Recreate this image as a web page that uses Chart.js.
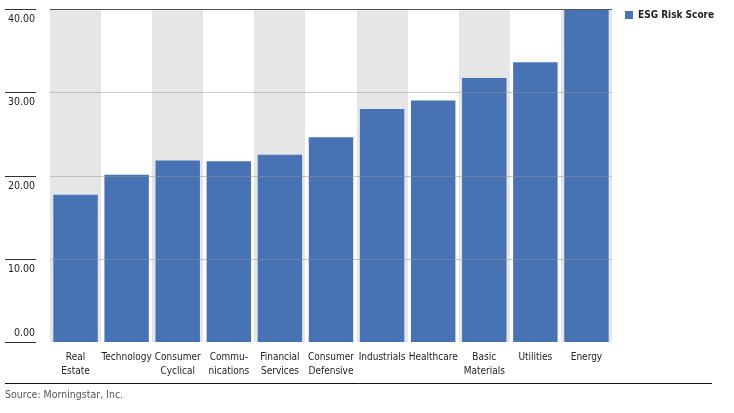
<!DOCTYPE html>
<html>
<head>
<meta charset="utf-8">
<script src="https://cdn.jsdelivr.net/npm/chart.js@4/dist/chart.umd.min.js"></script>
<style>
  html, body { margin: 0; padding: 0; background: #fff; }
  #wrap { width: 734px; height: 413px; }
</style>
</head>
<body>
<div id="wrap"><canvas id="c" width="734" height="413"></canvas></div>
<script>
  // sectors, sorted by risk score
  const categories = [
    ['Real', 'Estate'], 'Technology', ['Consumer', 'Cyclical'], ['Commu-', 'nications'],
    ['Financial', 'Services'], ['Consumer', 'Defensive'], 'Industrials', 'Healthcare',
    ['Basic', 'Materials'], 'Utilities', 'Energy'
  ];
  const riskScores = [17.7, 20.1, 21.8, 21.7, 22.5, 24.6, 28.0, 29.0, 31.7, 33.6, 41.0];
  const yTicks = [0, 10, 20, 30, 40];
  const seriesName = 'ESG Risk Score';
  const sourceNote = 'Source: Morningstar, Inc.';

  const FONT = '"Liberation Sans Narrow", "Arial Narrow", "DejaVu Sans Condensed", sans-serif';
  const BAR = '#4773b5';
  const BAND = '#e6e6e6';

  // bands, grid, tick stubs, legend and footer are drawn by hand
  const decor = {
    id: 'decor',
    beforeDatasetsDraw(chart) {
      const { ctx, chartArea: a, scales: { x } } = chart;
      const half = (a.right - a.left) / categories.length / 2;
      ctx.save();
      ctx.fillStyle = BAND;
      categories.forEach(function (_, i) {
        if (i % 2) return;
        const cx = x.getPixelForValue(i);
        ctx.fillRect(Math.round(cx - half), a.top, Math.round(2 * half), a.bottom - a.top);
      });
      ctx.restore();
    },
    afterDatasetsDraw(chart) {
      const { ctx, chartArea: a, scales: { y } } = chart;
      ctx.save();
      ctx.lineWidth = 1;
      yTicks.forEach(function (v) {
        const py = Math.round(y.getPixelForValue(v)) + 0.5;
        // grid line
        if (v !== 0) {
          ctx.strokeStyle = v === 40 ? '#555555' : 'rgba(150,150,150,0.5)';
          ctx.beginPath();
          ctx.moveTo(a.left, py);
          ctx.lineTo(a.right, py);
          ctx.stroke();
        }
        // short stub at the left
        ctx.strokeStyle = '#333333';
        ctx.beginPath();
        ctx.moveTo(5, py);
        ctx.lineTo(36, py);
        ctx.stroke();
        // label sits under the stub (zero sits above it)
        ctx.fillStyle = '#222222';
        ctx.font = '10.5px ' + FONT;
        ctx.textAlign = 'right';
        ctx.textBaseline = 'middle';
        ctx.fillText(v.toFixed(2), 35, v === 0 ? py - 9 : py + 10);
      });

      // legend
      ctx.fillStyle = BAR;
      ctx.fillRect(625, 11, 8, 8);
      ctx.fillStyle = '#222222';
      ctx.font = 'bold 10px ' + FONT;
      ctx.textAlign = 'left';
      ctx.textBaseline = 'middle';
      ctx.fillText(seriesName, 638, 15.5);

      // footer rule and source
      ctx.strokeStyle = '#111111';
      ctx.beginPath();
      ctx.moveTo(5, 383.5);
      ctx.lineTo(712, 383.5);
      ctx.stroke();
      ctx.fillStyle = '#555555';
      ctx.font = '10.5px ' + FONT;
      ctx.fillText(sourceNote, 5, 395);
      ctx.restore();
    }
  };

  new Chart(document.getElementById('c'), {
    type: 'bar',
    data: {
      labels: categories,
      datasets: [{
        label: seriesName,
        data: riskScores,
        backgroundColor: BAR,
        borderWidth: 0,
        categoryPercentage: 1,
        barPercentage: 0.87
      }]
    },
    options: {
      responsive: false,
      animation: false,
      devicePixelRatio: 1,
      layout: { padding: { left: 0, right: 122, top: 9, bottom: 0 } },
      plugins: {
        legend: { display: false },
        title: { display: false },
        tooltip: { enabled: false }
      },
      scales: {
        x: {
          grid: { display: false, drawTicks: false },
          border: { display: false },
          ticks: {
            color: '#222222',
            font: { family: FONT, size: 10, lineHeight: 1.4 },
            padding: 8,
            maxRotation: 0,
            autoSkip: false
          },
          afterFit(s) { s.height = 71; }
        },
        y: {
          min: 0,
          max: 40,
          grid: { display: false },
          border: { display: false },
          ticks: { display: false, stepSize: 10 },
          afterFit(s) { s.width = 50; }
        }
      }
    },
    plugins: [decor]
  });
</script>
</body>
</html>
